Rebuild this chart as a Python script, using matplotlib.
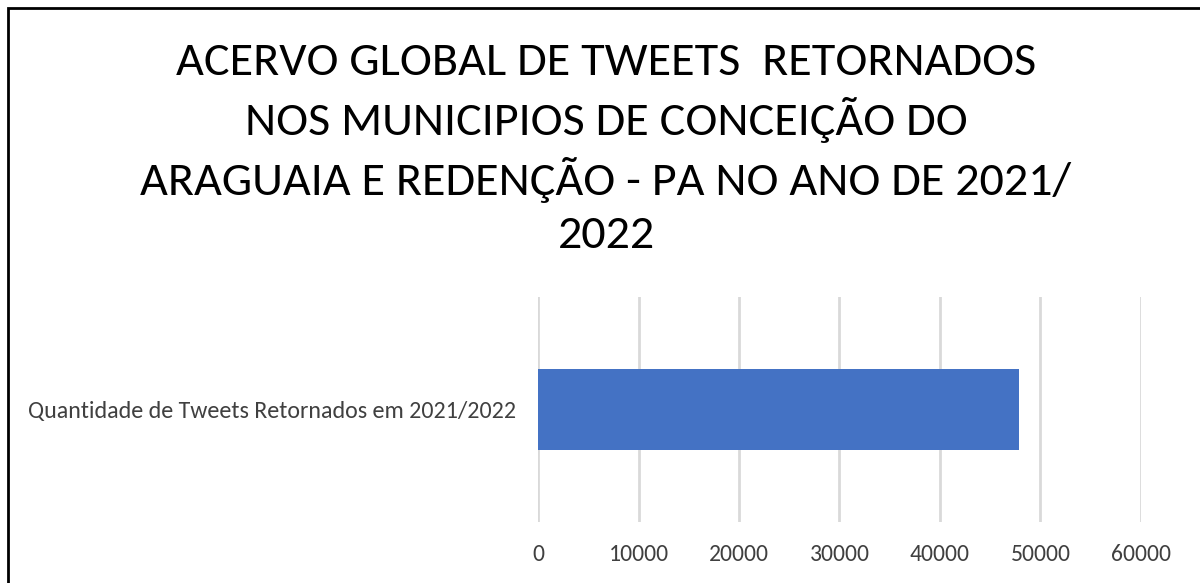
import matplotlib
matplotlib.use("Agg")
import matplotlib.pyplot as plt
from matplotlib.patches import Rectangle

categories = ["Quantidade de Tweets Retornados em 2021/2022"]
values = [47900]
xticks = [0, 10000, 20000, 30000, 40000, 50000, 60000]
title = ("ACERVO GLOBAL DE TWEETS  RETORNADOS\nNOS MUNICIPIOS DE CONCEIÇÃO DO\n"
         "ARAGUAIA E REDENÇÃO - PA NO ANO DE 2021/\n2022")

W, H = 1200, 583
fig = plt.figure(figsize=(W / 100, H / 100), dpi=100)
fam = ['Carlito', 'Lato', 'DejaVu Sans']

# frame
fig.patches.append(Rectangle((8 / W, -0.1), 1.2, (H - 8) / H + 0.1, transform=fig.transFigure,
                             fill=False, edgecolor='black', linewidth=2))

ax = fig.add_axes([538 / W, 1 - 522 / H, (1141 - 538) / W, (522 - 297) / H])
ax.barh(range(len(categories)), values, height=0.356, color='#4472C4', zorder=3)
ax.set_xlim(0, 60000)
ax.set_ylim(-0.5, 0.5)
ax.set_xticks(xticks)
ax.set_xticklabels([str(t) for t in xticks], fontfamily=fam, fontsize=17, color='#404040')
ax.set_yticks(range(len(categories)))
ax.set_yticklabels(categories, fontfamily=fam, fontsize=17.3, color='#404040')
ax.tick_params(axis='both', length=0)
ax.tick_params(axis='x', pad=16)
ax.tick_params(axis='y', pad=16)
ax.grid(axis='x', color='#d9d9d9', linewidth=2, zorder=0)
for s in ax.spines.values():
    s.set_visible(False)

fig.text(606 / W, 1 - 42 / H, title, ha='center', va='top', fontfamily=fam,
         fontsize=34.7, color='black', linespacing=1.37)

fig.savefig("out.png", dpi=100)
